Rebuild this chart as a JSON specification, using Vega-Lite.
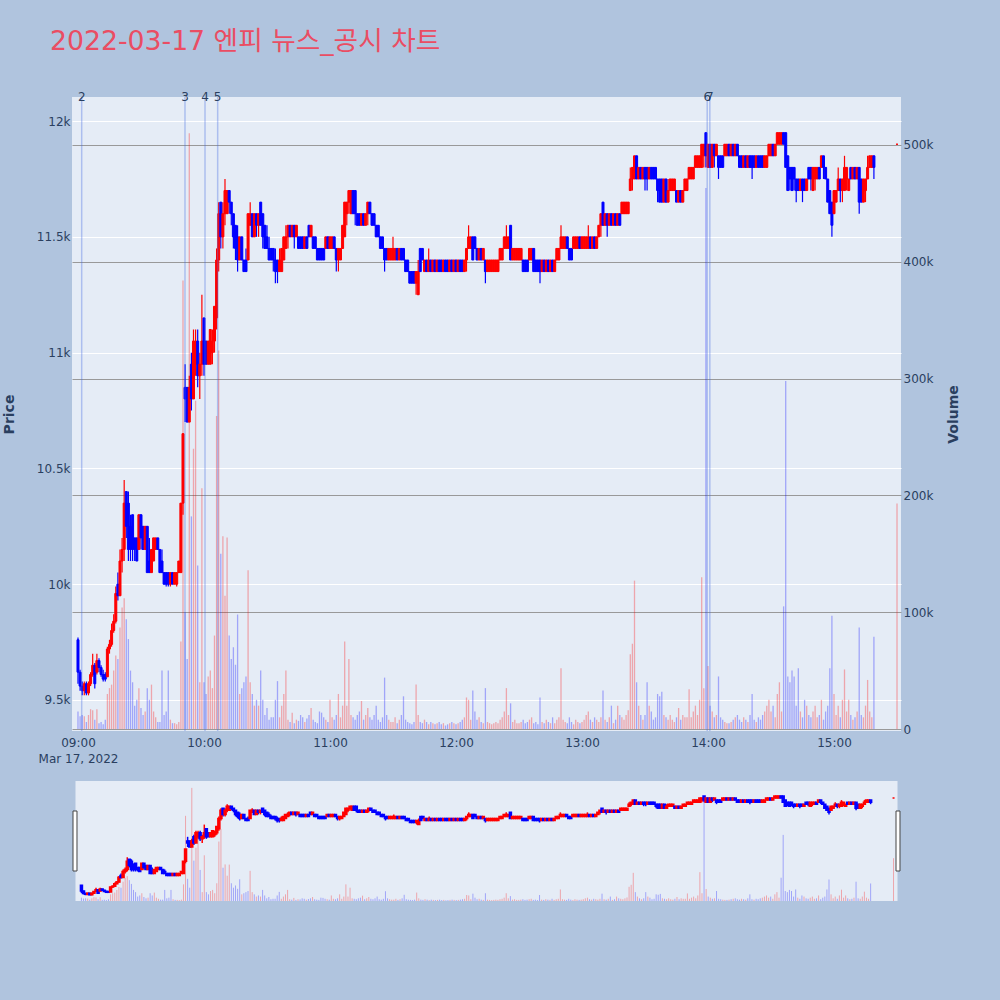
{
"$schema": "https://vega.github.io/schema/vega-lite/v6.json",
"background": "#B0C4DE",
"padding": {"left": 2, "top": 29, "right": 40, "bottom": 100},
"title": {"text": "2022-03-17 엔피 뉴스_공시 차트", "anchor": "start", "font": "DejaVu Sans, Noto Sans CJK KR", "fontSize": 26.7, "fontWeight": "normal", "color": "#EA4D63", "dx": 48, "offset": 35},
"datasets": {
"ann": [{"t":"2022-03-17T09:01:46","n":"2"},{"t":"2022-03-17T09:50:57","n":"3"},{"t":"2022-03-17T10:00:29","n":"4"},{"t":"2022-03-17T10:06:31","n":"5"},{"t":"2022-03-17T13:59:37","n":"6"},{"t":"2022-03-17T14:00:52","n":"7"}],
"handles": [{"t":"2022-03-17T08:55:57","t2":"2022-03-17T08:57:52"},{"t":"2022-03-17T15:31:11","t2":"2022-03-17T15:33:06"}],
"k": [
{"t":"2022-03-17T09:00","o":9760,"h":9770,"l":9570,"c":9620,"v":15000},
{"t":"2022-03-17T09:01","o":9620,"h":9630,"l":9540,"c":9560,"v":11000},
{"t":"2022-03-17T09:02","o":9560,"h":9580,"l":9520,"c":9540,"v":12000},
{"t":"2022-03-17T09:03","o":9540,"h":9580,"l":9520,"c":9570,"v":11000},
{"t":"2022-03-17T09:04","o":9570,"h":9580,"l":9520,"c":9530,"v":6000},
{"t":"2022-03-17T09:05","o":9530,"h":9580,"l":9520,"c":9570,"v":12000},
{"t":"2022-03-17T09:06","o":9570,"h":9620,"l":9560,"c":9610,"v":17000},
{"t":"2022-03-17T09:07","o":9610,"h":9700,"l":9600,"c":9650,"v":16000},
{"t":"2022-03-17T09:08","o":9650,"h":9660,"l":9550,"c":9570,"v":8000},
{"t":"2022-03-17T09:09","o":9620,"h":9700,"l":9610,"c":9670,"v":17000},
{"t":"2022-03-17T09:10","o":9670,"h":9680,"l":9620,"c":9640,"v":5000},
{"t":"2022-03-17T09:11","o":9640,"h":9650,"l":9600,"c":9610,"v":6000},
{"t":"2022-03-17T09:12","o":9610,"h":9630,"l":9580,"c":9590,"v":4000},
{"t":"2022-03-17T09:13","o":9610,"h":9620,"l":9580,"c":9590,"v":8000},
{"t":"2022-03-17T09:14","o":9600,"h":9730,"l":9600,"c":9720,"v":30000},
{"t":"2022-03-17T09:15","o":9720,"h":9760,"l":9700,"c":9740,"v":35000},
{"t":"2022-03-17T09:16","o":9740,"h":9830,"l":9730,"c":9800,"v":38000},
{"t":"2022-03-17T09:17","o":9800,"h":9870,"l":9790,"c":9840,"v":50000},
{"t":"2022-03-17T09:18","o":9840,"h":9990,"l":9830,"c":9960,"v":63000},
{"t":"2022-03-17T09:19","o":10000,"h":10050,"l":9930,"c":9950,"v":60000},
{"t":"2022-03-17T09:20","o":9950,"h":10150,"l":9950,"c":10100,"v":87000},
{"t":"2022-03-17T09:21","o":10100,"h":10200,"l":10050,"c":10150,"v":104000},
{"t":"2022-03-17T09:22","o":10150,"h":10450,"l":10100,"c":10350,"v":112000},
{"t":"2022-03-17T09:23","o":10400,"h":10400,"l":10200,"c":10250,"v":94000},
{"t":"2022-03-17T09:24","o":10350,"h":10400,"l":10100,"c":10150,"v":77000},
{"t":"2022-03-17T09:25","o":10250,"h":10300,"l":10100,"c":10150,"v":50000},
{"t":"2022-03-17T09:26","o":10300,"h":10300,"l":10100,"c":10150,"v":40000},
{"t":"2022-03-17T09:27","o":10200,"h":10200,"l":10100,"c":10150,"v":20000},
{"t":"2022-03-17T09:28","o":10200,"h":10200,"l":10100,"c":10100,"v":25000},
{"t":"2022-03-17T09:29","o":10150,"h":10300,"l":10150,"c":10300,"v":35000},
{"t":"2022-03-17T09:30","o":10300,"h":10300,"l":10150,"c":10200,"v":18000},
{"t":"2022-03-17T09:31","o":10250,"h":10250,"l":10150,"c":10150,"v":12000},
{"t":"2022-03-17T09:32","o":10150,"h":10250,"l":10150,"c":10250,"v":15000},
{"t":"2022-03-17T09:33","o":10250,"h":10250,"l":10050,"c":10050,"v":35000},
{"t":"2022-03-17T09:34","o":10100,"h":10200,"l":10050,"c":10050,"v":25000},
{"t":"2022-03-17T09:35","o":10050,"h":10150,"l":10050,"c":10150,"v":38000},
{"t":"2022-03-17T09:36","o":10100,"h":10200,"l":10100,"c":10200,"v":15000},
{"t":"2022-03-17T09:37","o":10150,"h":10200,"l":10150,"c":10200,"v":10000},
{"t":"2022-03-17T09:38","o":10200,"h":10200,"l":10150,"c":10150,"v":6000},
{"t":"2022-03-17T09:39","o":10150,"h":10150,"l":10050,"c":10050,"v":6000},
{"t":"2022-03-17T09:40","o":10100,"h":10150,"l":10050,"c":10050,"v":50000},
{"t":"2022-03-17T09:41","o":10050,"h":10050,"l":10000,"c":10000,"v":12000},
{"t":"2022-03-17T09:42","o":10050,"h":10050,"l":9990,"c":10000,"v":15000},
{"t":"2022-03-17T09:43","o":10050,"h":10050,"l":9990,"c":10000,"v":50000},
{"t":"2022-03-17T09:44","o":10000,"h":10050,"l":9990,"c":10050,"v":8000},
{"t":"2022-03-17T09:45","o":10050,"h":10050,"l":10000,"c":10000,"v":5000},
{"t":"2022-03-17T09:46","o":10000,"h":10050,"l":10000,"c":10050,"v":5000},
{"t":"2022-03-17T09:47","o":10000,"h":10050,"l":9990,"c":10050,"v":4000},
{"t":"2022-03-17T09:48","o":10050,"h":10100,"l":10050,"c":10100,"v":6000},
{"t":"2022-03-17T09:49","o":10050,"h":10350,"l":10050,"c":10350,"v":75000},
{"t":"2022-03-17T09:50","o":10350,"h":10650,"l":10300,"c":10650,"v":384000},
{"t":"2022-03-17T09:51","o":10850,"h":10950,"l":10700,"c":10800,"v":100000},
{"t":"2022-03-17T09:52","o":10850,"h":10850,"l":10700,"c":10700,"v":60000},
{"t":"2022-03-17T09:53","o":10700,"h":10900,"l":10700,"c":10850,"v":510000},
{"t":"2022-03-17T09:54","o":10950,"h":11000,"l":10750,"c":10800,"v":182000},
{"t":"2022-03-17T09:55","o":10800,"h":11100,"l":10800,"c":11050,"v":240000},
{"t":"2022-03-17T09:56","o":10950,"h":11100,"l":10900,"c":11050,"v":281000},
{"t":"2022-03-17T09:57","o":11050,"h":11100,"l":10850,"c":10900,"v":140000},
{"t":"2022-03-17T09:58","o":10900,"h":11000,"l":10800,"c":10950,"v":40000},
{"t":"2022-03-17T09:59","o":10950,"h":11250,"l":10900,"c":11050,"v":206000},
{"t":"2022-03-17T10:00","o":11150,"h":11150,"l":10900,"c":10950,"v":40000},
{"t":"2022-03-17T10:01","o":11050,"h":11050,"l":10950,"c":10950,"v":30000},
{"t":"2022-03-17T10:02","o":10950,"h":11050,"l":10950,"c":11050,"v":45000},
{"t":"2022-03-17T10:03","o":10950,"h":11100,"l":10950,"c":11100,"v":50000},
{"t":"2022-03-17T10:04","o":11000,"h":11100,"l":10950,"c":11050,"v":35000},
{"t":"2022-03-17T10:05","o":11050,"h":11200,"l":11000,"c":11200,"v":80000},
{"t":"2022-03-17T10:06","o":11150,"h":11450,"l":11100,"c":11400,"v":268000},
{"t":"2022-03-17T10:07","o":11400,"h":11650,"l":11350,"c":11600,"v":324000},
{"t":"2022-03-17T10:08","o":11650,"h":11650,"l":11450,"c":11500,"v":150000},
{"t":"2022-03-17T10:09","o":11500,"h":11650,"l":11450,"c":11600,"v":165000},
{"t":"2022-03-17T10:10","o":11600,"h":11750,"l":11550,"c":11700,"v":114000},
{"t":"2022-03-17T10:11","o":11600,"h":11700,"l":11600,"c":11700,"v":164000},
{"t":"2022-03-17T10:12","o":11700,"h":11700,"l":11600,"c":11650,"v":80000},
{"t":"2022-03-17T10:13","o":11650,"h":11650,"l":11550,"c":11600,"v":60000},
{"t":"2022-03-17T10:14","o":11600,"h":11600,"l":11450,"c":11500,"v":70000},
{"t":"2022-03-17T10:15","o":11550,"h":11550,"l":11400,"c":11450,"v":55000},
{"t":"2022-03-17T10:16","o":11500,"h":11550,"l":11350,"c":11400,"v":98000},
{"t":"2022-03-17T10:17","o":11400,"h":11500,"l":11400,"c":11500,"v":30000},
{"t":"2022-03-17T10:18","o":11500,"h":11500,"l":11400,"c":11400,"v":35000},
{"t":"2022-03-17T10:19","o":11400,"h":11400,"l":11350,"c":11350,"v":40000},
{"t":"2022-03-17T10:20","o":11400,"h":11450,"l":11350,"c":11350,"v":45000},
{"t":"2022-03-17T10:21","o":11400,"h":11600,"l":11400,"c":11600,"v":136000},
{"t":"2022-03-17T10:22","o":11550,"h":11650,"l":11550,"c":11600,"v":40000},
{"t":"2022-03-17T10:23","o":11600,"h":11600,"l":11500,"c":11500,"v":30000},
{"t":"2022-03-17T10:24","o":11500,"h":11600,"l":11500,"c":11600,"v":20000},
{"t":"2022-03-17T10:25","o":11600,"h":11600,"l":11500,"c":11550,"v":25000},
{"t":"2022-03-17T10:26","o":11550,"h":11600,"l":11500,"c":11600,"v":20000},
{"t":"2022-03-17T10:27","o":11650,"h":11650,"l":11550,"c":11550,"v":50000},
{"t":"2022-03-17T10:28","o":11600,"h":11600,"l":11450,"c":11500,"v":25000},
{"t":"2022-03-17T10:29","o":11550,"h":11550,"l":11450,"c":11450,"v":12000},
{"t":"2022-03-17T10:30","o":11500,"h":11550,"l":11450,"c":11450,"v":18000},
{"t":"2022-03-17T10:31","o":11450,"h":11500,"l":11400,"c":11400,"v":8000},
{"t":"2022-03-17T10:32","o":11450,"h":11450,"l":11400,"c":11400,"v":10000},
{"t":"2022-03-17T10:33","o":11450,"h":11450,"l":11350,"c":11400,"v":10000},
{"t":"2022-03-17T10:34","o":11400,"h":11450,"l":11300,"c":11350,"v":25000},
{"t":"2022-03-17T10:35","o":11400,"h":11400,"l":11300,"c":11350,"v":41000},
{"t":"2022-03-17T10:36","o":11350,"h":11450,"l":11350,"c":11400,"v":10000},
{"t":"2022-03-17T10:37","o":11350,"h":11450,"l":11350,"c":11450,"v":20000},
{"t":"2022-03-17T10:38","o":11400,"h":11500,"l":11400,"c":11500,"v":30000},
{"t":"2022-03-17T10:39","o":11450,"h":11550,"l":11450,"c":11500,"v":50000},
{"t":"2022-03-17T10:40","o":11500,"h":11550,"l":11450,"c":11550,"v":8000},
{"t":"2022-03-17T10:41","o":11550,"h":11550,"l":11500,"c":11500,"v":6000},
{"t":"2022-03-17T10:42","o":11500,"h":11550,"l":11500,"c":11550,"v":14000},
{"t":"2022-03-17T10:43","o":11550,"h":11550,"l":11450,"c":11500,"v":5000},
{"t":"2022-03-17T10:44","o":11500,"h":11550,"l":11500,"c":11550,"v":8000},
{"t":"2022-03-17T10:45","o":11500,"h":11500,"l":11450,"c":11450,"v":7000},
{"t":"2022-03-17T10:46","o":11500,"h":11500,"l":11450,"c":11450,"v":12000},
{"t":"2022-03-17T10:47","o":11500,"h":11500,"l":11450,"c":11450,"v":10000},
{"t":"2022-03-17T10:48","o":11450,"h":11500,"l":11450,"c":11500,"v":6000},
{"t":"2022-03-17T10:49","o":11500,"h":11500,"l":11450,"c":11450,"v":9000},
{"t":"2022-03-17T10:50","o":11550,"h":11550,"l":11500,"c":11500,"v":12000},
{"t":"2022-03-17T10:51","o":11500,"h":11550,"l":11500,"c":11550,"v":18000},
{"t":"2022-03-17T10:52","o":11500,"h":11500,"l":11450,"c":11450,"v":8000},
{"t":"2022-03-17T10:53","o":11500,"h":11500,"l":11450,"c":11450,"v":6000},
{"t":"2022-03-17T10:54","o":11450,"h":11450,"l":11400,"c":11400,"v":5000},
{"t":"2022-03-17T10:55","o":11450,"h":11450,"l":11400,"c":11400,"v":15000},
{"t":"2022-03-17T10:56","o":11450,"h":11450,"l":11400,"c":11400,"v":14000},
{"t":"2022-03-17T10:57","o":11450,"h":11450,"l":11400,"c":11400,"v":10000},
{"t":"2022-03-17T10:58","o":11450,"h":11500,"l":11450,"c":11500,"v":8000},
{"t":"2022-03-17T10:59","o":11500,"h":11500,"l":11450,"c":11450,"v":6000},
{"t":"2022-03-17T11:00","o":11450,"h":11500,"l":11450,"c":11500,"v":25000},
{"t":"2022-03-17T11:01","o":11450,"h":11500,"l":11450,"c":11500,"v":10000},
{"t":"2022-03-17T11:02","o":11500,"h":11500,"l":11450,"c":11450,"v":8000},
{"t":"2022-03-17T11:03","o":11450,"h":11450,"l":11350,"c":11400,"v":12000},
{"t":"2022-03-17T11:04","o":11400,"h":11450,"l":11350,"c":11450,"v":30000},
{"t":"2022-03-17T11:05","o":11400,"h":11450,"l":11400,"c":11450,"v":10000},
{"t":"2022-03-17T11:06","o":11450,"h":11550,"l":11450,"c":11550,"v":20000},
{"t":"2022-03-17T11:07","o":11500,"h":11650,"l":11500,"c":11650,"v":75000},
{"t":"2022-03-17T11:08","o":11600,"h":11650,"l":11550,"c":11650,"v":20000},
{"t":"2022-03-17T11:09","o":11650,"h":11700,"l":11600,"c":11700,"v":60000},
{"t":"2022-03-17T11:10","o":11600,"h":11700,"l":11600,"c":11700,"v":12000},
{"t":"2022-03-17T11:11","o":11700,"h":11700,"l":11600,"c":11600,"v":10000},
{"t":"2022-03-17T11:12","o":11700,"h":11700,"l":11550,"c":11600,"v":8000},
{"t":"2022-03-17T11:13","o":11600,"h":11600,"l":11550,"c":11550,"v":12000},
{"t":"2022-03-17T11:14","o":11600,"h":11600,"l":11550,"c":11550,"v":15000},
{"t":"2022-03-17T11:15","o":11550,"h":11600,"l":11550,"c":11600,"v":24000},
{"t":"2022-03-17T11:16","o":11600,"h":11600,"l":11550,"c":11550,"v":8000},
{"t":"2022-03-17T11:17","o":11550,"h":11600,"l":11550,"c":11600,"v":12000},
{"t":"2022-03-17T11:18","o":11600,"h":11650,"l":11550,"c":11650,"v":18000},
{"t":"2022-03-17T11:19","o":11650,"h":11650,"l":11600,"c":11600,"v":10000},
{"t":"2022-03-17T11:20","o":11600,"h":11600,"l":11550,"c":11550,"v":8000},
{"t":"2022-03-17T11:21","o":11600,"h":11600,"l":11550,"c":11550,"v":12000},
{"t":"2022-03-17T11:22","o":11550,"h":11550,"l":11500,"c":11500,"v":20000},
{"t":"2022-03-17T11:23","o":11550,"h":11550,"l":11500,"c":11500,"v":8000},
{"t":"2022-03-17T11:24","o":11500,"h":11500,"l":11450,"c":11450,"v":6000},
{"t":"2022-03-17T11:25","o":11500,"h":11500,"l":11450,"c":11450,"v":10000},
{"t":"2022-03-17T11:26","o":11450,"h":11450,"l":11350,"c":11400,"v":44000},
{"t":"2022-03-17T11:27","o":11450,"h":11450,"l":11400,"c":11400,"v":12000},
{"t":"2022-03-17T11:28","o":11400,"h":11450,"l":11400,"c":11450,"v":8000},
{"t":"2022-03-17T11:29","o":11400,"h":11450,"l":11400,"c":11450,"v":6000},
{"t":"2022-03-17T11:30","o":11400,"h":11500,"l":11400,"c":11450,"v":6000},
{"t":"2022-03-17T11:31","o":11400,"h":11450,"l":11400,"c":11450,"v":10000},
{"t":"2022-03-17T11:32","o":11450,"h":11450,"l":11400,"c":11400,"v":5000},
{"t":"2022-03-17T11:33","o":11400,"h":11450,"l":11400,"c":11450,"v":8000},
{"t":"2022-03-17T11:34","o":11450,"h":11450,"l":11400,"c":11400,"v":12000},
{"t":"2022-03-17T11:35","o":11450,"h":11450,"l":11400,"c":11400,"v":28000},
{"t":"2022-03-17T11:36","o":11400,"h":11400,"l":11350,"c":11350,"v":8000},
{"t":"2022-03-17T11:37","o":11400,"h":11400,"l":11350,"c":11350,"v":6000},
{"t":"2022-03-17T11:38","o":11350,"h":11350,"l":11300,"c":11300,"v":5000},
{"t":"2022-03-17T11:39","o":11350,"h":11350,"l":11300,"c":11300,"v":4000},
{"t":"2022-03-17T11:40","o":11350,"h":11350,"l":11300,"c":11300,"v":6000},
{"t":"2022-03-17T11:41","o":11300,"h":11350,"l":11250,"c":11350,"v":38000},
{"t":"2022-03-17T11:42","o":11250,"h":11400,"l":11250,"c":11350,"v":12000},
{"t":"2022-03-17T11:43","o":11450,"h":11450,"l":11350,"c":11350,"v":6000},
{"t":"2022-03-17T11:44","o":11450,"h":11450,"l":11400,"c":11400,"v":5000},
{"t":"2022-03-17T11:45","o":11350,"h":11400,"l":11350,"c":11400,"v":8000},
{"t":"2022-03-17T11:46","o":11400,"h":11400,"l":11350,"c":11350,"v":6000},
{"t":"2022-03-17T11:47","o":11350,"h":11450,"l":11350,"c":11400,"v":4000},
{"t":"2022-03-17T11:48","o":11400,"h":11400,"l":11350,"c":11350,"v":6000},
{"t":"2022-03-17T11:49","o":11350,"h":11400,"l":11350,"c":11400,"v":5000},
{"t":"2022-03-17T11:50","o":11400,"h":11400,"l":11350,"c":11350,"v":4000},
{"t":"2022-03-17T11:51","o":11350,"h":11400,"l":11350,"c":11400,"v":5000},
{"t":"2022-03-17T11:52","o":11400,"h":11400,"l":11350,"c":11350,"v":6000},
{"t":"2022-03-17T11:53","o":11400,"h":11400,"l":11350,"c":11350,"v":4000},
{"t":"2022-03-17T11:54","o":11350,"h":11400,"l":11350,"c":11400,"v":5000},
{"t":"2022-03-17T11:55","o":11400,"h":11400,"l":11350,"c":11350,"v":3000},
{"t":"2022-03-17T11:56","o":11400,"h":11400,"l":11350,"c":11350,"v":4000},
{"t":"2022-03-17T11:57","o":11350,"h":11400,"l":11350,"c":11400,"v":5000},
{"t":"2022-03-17T11:58","o":11400,"h":11400,"l":11350,"c":11350,"v":6000},
{"t":"2022-03-17T11:59","o":11350,"h":11400,"l":11350,"c":11400,"v":5000},
{"t":"2022-03-17T12:00","o":11400,"h":11400,"l":11350,"c":11350,"v":4000},
{"t":"2022-03-17T12:01","o":11350,"h":11400,"l":11350,"c":11400,"v":5000},
{"t":"2022-03-17T12:02","o":11400,"h":11400,"l":11350,"c":11350,"v":6000},
{"t":"2022-03-17T12:03","o":11400,"h":11400,"l":11350,"c":11350,"v":8000},
{"t":"2022-03-17T12:04","o":11350,"h":11400,"l":11350,"c":11400,"v":10000},
{"t":"2022-03-17T12:05","o":11400,"h":11450,"l":11350,"c":11450,"v":27000},
{"t":"2022-03-17T12:06","o":11450,"h":11550,"l":11450,"c":11500,"v":25000},
{"t":"2022-03-17T12:07","o":11450,"h":11500,"l":11450,"c":11500,"v":8000},
{"t":"2022-03-17T12:08","o":11500,"h":11500,"l":11400,"c":11400,"v":33000},
{"t":"2022-03-17T12:09","o":11500,"h":11500,"l":11450,"c":11450,"v":15000},
{"t":"2022-03-17T12:10","o":11450,"h":11450,"l":11400,"c":11400,"v":8000},
{"t":"2022-03-17T12:11","o":11400,"h":11450,"l":11400,"c":11450,"v":10000},
{"t":"2022-03-17T12:12","o":11450,"h":11450,"l":11400,"c":11400,"v":6000},
{"t":"2022-03-17T12:13","o":11400,"h":11450,"l":11400,"c":11450,"v":5000},
{"t":"2022-03-17T12:14","o":11400,"h":11400,"l":11300,"c":11350,"v":35000},
{"t":"2022-03-17T12:15","o":11350,"h":11400,"l":11350,"c":11400,"v":6000},
{"t":"2022-03-17T12:16","o":11350,"h":11400,"l":11350,"c":11400,"v":5000},
{"t":"2022-03-17T12:17","o":11350,"h":11400,"l":11350,"c":11400,"v":4000},
{"t":"2022-03-17T12:18","o":11350,"h":11400,"l":11350,"c":11400,"v":5000},
{"t":"2022-03-17T12:19","o":11350,"h":11400,"l":11350,"c":11400,"v":6000},
{"t":"2022-03-17T12:20","o":11350,"h":11400,"l":11350,"c":11400,"v":5000},
{"t":"2022-03-17T12:21","o":11400,"h":11450,"l":11400,"c":11450,"v":8000},
{"t":"2022-03-17T12:22","o":11400,"h":11450,"l":11400,"c":11450,"v":10000},
{"t":"2022-03-17T12:23","o":11450,"h":11500,"l":11450,"c":11500,"v":15000},
{"t":"2022-03-17T12:24","o":11450,"h":11550,"l":11450,"c":11500,"v":35000},
{"t":"2022-03-17T12:25","o":11450,"h":11500,"l":11450,"c":11500,"v":12000},
{"t":"2022-03-17T12:26","o":11550,"h":11550,"l":11400,"c":11400,"v":22000},
{"t":"2022-03-17T12:27","o":11400,"h":11450,"l":11400,"c":11450,"v":6000},
{"t":"2022-03-17T12:28","o":11400,"h":11450,"l":11400,"c":11450,"v":8000},
{"t":"2022-03-17T12:29","o":11400,"h":11450,"l":11400,"c":11450,"v":5000},
{"t":"2022-03-17T12:30","o":11400,"h":11450,"l":11400,"c":11450,"v":5000},
{"t":"2022-03-17T12:31","o":11400,"h":11450,"l":11400,"c":11450,"v":6000},
{"t":"2022-03-17T12:32","o":11400,"h":11400,"l":11350,"c":11350,"v":8000},
{"t":"2022-03-17T12:33","o":11400,"h":11400,"l":11350,"c":11350,"v":5000},
{"t":"2022-03-17T12:34","o":11400,"h":11400,"l":11350,"c":11350,"v":6000},
{"t":"2022-03-17T12:35","o":11400,"h":11450,"l":11400,"c":11450,"v":8000},
{"t":"2022-03-17T12:36","o":11400,"h":11450,"l":11400,"c":11450,"v":10000},
{"t":"2022-03-17T12:37","o":11450,"h":11450,"l":11350,"c":11350,"v":5000},
{"t":"2022-03-17T12:38","o":11400,"h":11400,"l":11350,"c":11350,"v":6000},
{"t":"2022-03-17T12:39","o":11400,"h":11400,"l":11350,"c":11350,"v":4000},
{"t":"2022-03-17T12:40","o":11400,"h":11400,"l":11300,"c":11350,"v":27000},
{"t":"2022-03-17T12:41","o":11350,"h":11400,"l":11350,"c":11400,"v":6000},
{"t":"2022-03-17T12:42","o":11400,"h":11400,"l":11350,"c":11350,"v":5000},
{"t":"2022-03-17T12:43","o":11350,"h":11400,"l":11350,"c":11400,"v":8000},
{"t":"2022-03-17T12:44","o":11400,"h":11400,"l":11350,"c":11350,"v":6000},
{"t":"2022-03-17T12:45","o":11350,"h":11400,"l":11350,"c":11400,"v":5000},
{"t":"2022-03-17T12:46","o":11400,"h":11400,"l":11350,"c":11350,"v":10000},
{"t":"2022-03-17T12:47","o":11350,"h":11400,"l":11350,"c":11400,"v":5000},
{"t":"2022-03-17T12:48","o":11400,"h":11450,"l":11400,"c":11450,"v":8000},
{"t":"2022-03-17T12:49","o":11400,"h":11450,"l":11400,"c":11450,"v":10000},
{"t":"2022-03-17T12:50","o":11450,"h":11550,"l":11450,"c":11500,"v":52000},
{"t":"2022-03-17T12:51","o":11450,"h":11500,"l":11450,"c":11500,"v":8000},
{"t":"2022-03-17T12:52","o":11450,"h":11500,"l":11450,"c":11500,"v":6000},
{"t":"2022-03-17T12:53","o":11500,"h":11500,"l":11450,"c":11450,"v":5000},
{"t":"2022-03-17T12:54","o":11450,"h":11450,"l":11400,"c":11400,"v":10000},
{"t":"2022-03-17T12:55","o":11450,"h":11450,"l":11400,"c":11400,"v":6000},
{"t":"2022-03-17T12:56","o":11450,"h":11500,"l":11450,"c":11500,"v":4000},
{"t":"2022-03-17T12:57","o":11450,"h":11500,"l":11450,"c":11500,"v":8000},
{"t":"2022-03-17T12:58","o":11450,"h":11500,"l":11450,"c":11500,"v":6000},
{"t":"2022-03-17T12:59","o":11500,"h":11500,"l":11450,"c":11450,"v":5000},
{"t":"2022-03-17T13:00","o":11450,"h":11500,"l":11450,"c":11500,"v":6000},
{"t":"2022-03-17T13:01","o":11450,"h":11500,"l":11450,"c":11500,"v":8000},
{"t":"2022-03-17T13:02","o":11450,"h":11500,"l":11450,"c":11500,"v":12000},
{"t":"2022-03-17T13:03","o":11450,"h":11550,"l":11450,"c":11500,"v":15000},
{"t":"2022-03-17T13:04","o":11500,"h":11500,"l":11450,"c":11450,"v":8000},
{"t":"2022-03-17T13:05","o":11450,"h":11500,"l":11450,"c":11500,"v":6000},
{"t":"2022-03-17T13:06","o":11500,"h":11500,"l":11450,"c":11450,"v":10000},
{"t":"2022-03-17T13:07","o":11450,"h":11500,"l":11450,"c":11500,"v":8000},
{"t":"2022-03-17T13:08","o":11500,"h":11550,"l":11500,"c":11550,"v":6000},
{"t":"2022-03-17T13:09","o":11550,"h":11600,"l":11500,"c":11600,"v":10000},
{"t":"2022-03-17T13:10","o":11650,"h":11650,"l":11550,"c":11550,"v":33000},
{"t":"2022-03-17T13:11","o":11550,"h":11600,"l":11550,"c":11600,"v":8000},
{"t":"2022-03-17T13:12","o":11600,"h":11600,"l":11500,"c":11550,"v":6000},
{"t":"2022-03-17T13:13","o":11550,"h":11600,"l":11550,"c":11600,"v":10000},
{"t":"2022-03-17T13:14","o":11600,"h":11600,"l":11550,"c":11550,"v":20000},
{"t":"2022-03-17T13:15","o":11550,"h":11600,"l":11550,"c":11600,"v":5000},
{"t":"2022-03-17T13:16","o":11600,"h":11600,"l":11550,"c":11550,"v":8000},
{"t":"2022-03-17T13:17","o":11550,"h":11600,"l":11550,"c":11600,"v":20000},
{"t":"2022-03-17T13:18","o":11600,"h":11600,"l":11550,"c":11550,"v":12000},
{"t":"2022-03-17T13:19","o":11600,"h":11650,"l":11600,"c":11650,"v":10000},
{"t":"2022-03-17T13:20","o":11600,"h":11650,"l":11600,"c":11650,"v":8000},
{"t":"2022-03-17T13:21","o":11600,"h":11650,"l":11600,"c":11650,"v":12000},
{"t":"2022-03-17T13:22","o":11600,"h":11650,"l":11600,"c":11650,"v":16000},
{"t":"2022-03-17T13:23","o":11700,"h":11800,"l":11700,"c":11750,"v":64000},
{"t":"2022-03-17T13:24","o":11750,"h":11800,"l":11700,"c":11800,"v":73000},
{"t":"2022-03-17T13:25","o":11750,"h":11850,"l":11750,"c":11850,"v":127000},
{"t":"2022-03-17T13:26","o":11850,"h":11850,"l":11750,"c":11750,"v":40000},
{"t":"2022-03-17T13:27","o":11750,"h":11800,"l":11750,"c":11800,"v":20000},
{"t":"2022-03-17T13:28","o":11800,"h":11800,"l":11750,"c":11750,"v":12000},
{"t":"2022-03-17T13:29","o":11750,"h":11800,"l":11750,"c":11800,"v":8000},
{"t":"2022-03-17T13:30","o":11800,"h":11800,"l":11700,"c":11750,"v":12000},
{"t":"2022-03-17T13:31","o":11800,"h":11800,"l":11700,"c":11750,"v":40000},
{"t":"2022-03-17T13:32","o":11750,"h":11800,"l":11750,"c":11800,"v":20000},
{"t":"2022-03-17T13:33","o":11800,"h":11800,"l":11750,"c":11750,"v":15000},
{"t":"2022-03-17T13:34","o":11800,"h":11800,"l":11750,"c":11750,"v":8000},
{"t":"2022-03-17T13:35","o":11800,"h":11800,"l":11750,"c":11750,"v":10000},
{"t":"2022-03-17T13:36","o":11750,"h":11750,"l":11650,"c":11700,"v":30000},
{"t":"2022-03-17T13:37","o":11750,"h":11750,"l":11650,"c":11650,"v":28000},
{"t":"2022-03-17T13:38","o":11750,"h":11750,"l":11650,"c":11650,"v":32000},
{"t":"2022-03-17T13:39","o":11650,"h":11750,"l":11650,"c":11750,"v":12000},
{"t":"2022-03-17T13:40","o":11750,"h":11750,"l":11650,"c":11650,"v":10000},
{"t":"2022-03-17T13:41","o":11650,"h":11750,"l":11650,"c":11700,"v":8000},
{"t":"2022-03-17T13:42","o":11700,"h":11750,"l":11700,"c":11750,"v":12000},
{"t":"2022-03-17T13:43","o":11700,"h":11750,"l":11700,"c":11750,"v":8000},
{"t":"2022-03-17T13:44","o":11700,"h":11750,"l":11700,"c":11750,"v":6000},
{"t":"2022-03-17T13:45","o":11700,"h":11700,"l":11650,"c":11650,"v":10000},
{"t":"2022-03-17T13:46","o":11650,"h":11700,"l":11650,"c":11700,"v":18000},
{"t":"2022-03-17T13:47","o":11700,"h":11700,"l":11650,"c":11650,"v":8000},
{"t":"2022-03-17T13:48","o":11650,"h":11700,"l":11650,"c":11700,"v":12000},
{"t":"2022-03-17T13:49","o":11700,"h":11750,"l":11700,"c":11750,"v":10000},
{"t":"2022-03-17T13:50","o":11700,"h":11750,"l":11700,"c":11750,"v":10000},
{"t":"2022-03-17T13:51","o":11750,"h":11800,"l":11750,"c":11800,"v":34000},
{"t":"2022-03-17T13:52","o":11750,"h":11800,"l":11750,"c":11800,"v":10000},
{"t":"2022-03-17T13:53","o":11750,"h":11800,"l":11750,"c":11800,"v":15000},
{"t":"2022-03-17T13:54","o":11800,"h":11850,"l":11800,"c":11850,"v":20000},
{"t":"2022-03-17T13:55","o":11800,"h":11850,"l":11800,"c":11850,"v":12000},
{"t":"2022-03-17T13:56","o":11800,"h":11850,"l":11800,"c":11850,"v":25000},
{"t":"2022-03-17T13:57","o":11800,"h":11900,"l":11800,"c":11900,"v":130000},
{"t":"2022-03-17T13:58","o":11850,"h":11900,"l":11800,"c":11900,"v":35000},
{"t":"2022-03-17T13:59","o":11950,"h":11950,"l":11800,"c":11850,"v":463000},
{"t":"2022-03-17T14:00","o":11800,"h":11900,"l":11800,"c":11900,"v":54000},
{"t":"2022-03-17T14:01","o":11900,"h":11900,"l":11800,"c":11800,"v":20000},
{"t":"2022-03-17T14:02","o":11800,"h":11900,"l":11800,"c":11900,"v":15000},
{"t":"2022-03-17T14:03","o":11900,"h":11900,"l":11800,"c":11850,"v":10000},
{"t":"2022-03-17T14:04","o":11850,"h":11900,"l":11850,"c":11900,"v":12000},
{"t":"2022-03-17T14:05","o":11850,"h":11850,"l":11750,"c":11800,"v":45000},
{"t":"2022-03-17T14:06","o":11850,"h":11850,"l":11800,"c":11800,"v":10000},
{"t":"2022-03-17T14:07","o":11850,"h":11850,"l":11800,"c":11800,"v":8000},
{"t":"2022-03-17T14:08","o":11850,"h":11900,"l":11850,"c":11900,"v":6000},
{"t":"2022-03-17T14:09","o":11850,"h":11900,"l":11850,"c":11900,"v":5000},
{"t":"2022-03-17T14:10","o":11900,"h":11900,"l":11850,"c":11850,"v":5000},
{"t":"2022-03-17T14:11","o":11850,"h":11900,"l":11850,"c":11900,"v":6000},
{"t":"2022-03-17T14:12","o":11900,"h":11900,"l":11850,"c":11850,"v":8000},
{"t":"2022-03-17T14:13","o":11850,"h":11900,"l":11850,"c":11900,"v":10000},
{"t":"2022-03-17T14:14","o":11900,"h":11900,"l":11850,"c":11850,"v":12000},
{"t":"2022-03-17T14:15","o":11850,"h":11850,"l":11800,"c":11800,"v":8000},
{"t":"2022-03-17T14:16","o":11850,"h":11850,"l":11800,"c":11800,"v":6000},
{"t":"2022-03-17T14:17","o":11800,"h":11850,"l":11800,"c":11850,"v":10000},
{"t":"2022-03-17T14:18","o":11850,"h":11850,"l":11800,"c":11800,"v":8000},
{"t":"2022-03-17T14:19","o":11800,"h":11850,"l":11800,"c":11850,"v":6000},
{"t":"2022-03-17T14:20","o":11850,"h":11850,"l":11800,"c":11800,"v":12000},
{"t":"2022-03-17T14:21","o":11850,"h":11850,"l":11750,"c":11800,"v":30000},
{"t":"2022-03-17T14:22","o":11850,"h":11850,"l":11800,"c":11800,"v":8000},
{"t":"2022-03-17T14:23","o":11800,"h":11850,"l":11800,"c":11850,"v":6000},
{"t":"2022-03-17T14:24","o":11850,"h":11850,"l":11800,"c":11800,"v":10000},
{"t":"2022-03-17T14:25","o":11850,"h":11850,"l":11800,"c":11800,"v":8000},
{"t":"2022-03-17T14:26","o":11850,"h":11850,"l":11800,"c":11800,"v":12000},
{"t":"2022-03-17T14:27","o":11800,"h":11850,"l":11800,"c":11850,"v":15000},
{"t":"2022-03-17T14:28","o":11800,"h":11850,"l":11800,"c":11850,"v":20000},
{"t":"2022-03-17T14:29","o":11850,"h":11900,"l":11850,"c":11900,"v":25000},
{"t":"2022-03-17T14:30","o":11850,"h":11900,"l":11850,"c":11900,"v":15000},
{"t":"2022-03-17T14:31","o":11900,"h":11900,"l":11850,"c":11850,"v":20000},
{"t":"2022-03-17T14:32","o":11850,"h":11900,"l":11850,"c":11900,"v":10000},
{"t":"2022-03-17T14:33","o":11900,"h":11950,"l":11900,"c":11950,"v":30000},
{"t":"2022-03-17T14:34","o":11900,"h":11950,"l":11900,"c":11950,"v":40000},
{"t":"2022-03-17T14:35","o":11900,"h":11950,"l":11900,"c":11950,"v":15000},
{"t":"2022-03-17T14:36","o":11950,"h":11950,"l":11900,"c":11900,"v":105000},
{"t":"2022-03-17T14:37","o":11950,"h":11950,"l":11800,"c":11800,"v":298000},
{"t":"2022-03-17T14:38","o":11850,"h":11850,"l":11700,"c":11700,"v":45000},
{"t":"2022-03-17T14:39","o":11800,"h":11800,"l":11700,"c":11750,"v":40000},
{"t":"2022-03-17T14:40","o":11800,"h":11800,"l":11700,"c":11700,"v":50000},
{"t":"2022-03-17T14:41","o":11800,"h":11800,"l":11700,"c":11750,"v":45000},
{"t":"2022-03-17T14:42","o":11750,"h":11750,"l":11650,"c":11700,"v":20000},
{"t":"2022-03-17T14:43","o":11750,"h":11750,"l":11700,"c":11700,"v":52000},
{"t":"2022-03-17T14:44","o":11700,"h":11750,"l":11700,"c":11750,"v":15000},
{"t":"2022-03-17T14:45","o":11750,"h":11750,"l":11650,"c":11700,"v":10000},
{"t":"2022-03-17T14:46","o":11750,"h":11750,"l":11700,"c":11700,"v":25000},
{"t":"2022-03-17T14:47","o":11700,"h":11750,"l":11700,"c":11750,"v":20000},
{"t":"2022-03-17T14:48","o":11800,"h":11800,"l":11750,"c":11750,"v":12000},
{"t":"2022-03-17T14:49","o":11800,"h":11800,"l":11700,"c":11750,"v":10000},
{"t":"2022-03-17T14:50","o":11700,"h":11800,"l":11700,"c":11800,"v":15000},
{"t":"2022-03-17T14:51","o":11750,"h":11800,"l":11700,"c":11800,"v":20000},
{"t":"2022-03-17T14:52","o":11750,"h":11800,"l":11750,"c":11800,"v":10000},
{"t":"2022-03-17T14:53","o":11800,"h":11800,"l":11750,"c":11750,"v":12000},
{"t":"2022-03-17T14:54","o":11800,"h":11850,"l":11800,"c":11850,"v":25000},
{"t":"2022-03-17T14:55","o":11850,"h":11850,"l":11750,"c":11800,"v":8000},
{"t":"2022-03-17T14:56","o":11800,"h":11800,"l":11750,"c":11750,"v":15000},
{"t":"2022-03-17T14:57","o":11750,"h":11750,"l":11650,"c":11650,"v":20000},
{"t":"2022-03-17T14:58","o":11700,"h":11700,"l":11600,"c":11600,"v":52000},
{"t":"2022-03-17T14:59","o":11650,"h":11650,"l":11500,"c":11550,"v":97000},
{"t":"2022-03-17T15:00","o":11600,"h":11700,"l":11600,"c":11700,"v":30000},
{"t":"2022-03-17T15:01","o":11650,"h":11700,"l":11650,"c":11700,"v":12000},
{"t":"2022-03-17T15:02","o":11700,"h":11800,"l":11700,"c":11750,"v":20000},
{"t":"2022-03-17T15:03","o":11750,"h":11750,"l":11650,"c":11700,"v":10000},
{"t":"2022-03-17T15:04","o":11700,"h":11750,"l":11650,"c":11750,"v":25000},
{"t":"2022-03-17T15:05","o":11700,"h":11850,"l":11700,"c":11800,"v":51000},
{"t":"2022-03-17T15:06","o":11750,"h":11800,"l":11700,"c":11800,"v":15000},
{"t":"2022-03-17T15:07","o":11700,"h":11750,"l":11700,"c":11750,"v":25000},
{"t":"2022-03-17T15:08","o":11800,"h":11800,"l":11750,"c":11750,"v":12000},
{"t":"2022-03-17T15:09","o":11750,"h":11800,"l":11750,"c":11800,"v":8000},
{"t":"2022-03-17T15:10","o":11800,"h":11800,"l":11750,"c":11750,"v":10000},
{"t":"2022-03-17T15:11","o":11750,"h":11800,"l":11750,"c":11800,"v":15000},
{"t":"2022-03-17T15:12","o":11800,"h":11800,"l":11600,"c":11650,"v":87000},
{"t":"2022-03-17T15:13","o":11750,"h":11750,"l":11650,"c":11650,"v":12000},
{"t":"2022-03-17T15:14","o":11650,"h":11750,"l":11650,"c":11750,"v":10000},
{"t":"2022-03-17T15:15","o":11700,"h":11750,"l":11650,"c":11750,"v":20000},
{"t":"2022-03-17T15:16","o":11750,"h":11850,"l":11750,"c":11800,"v":42000},
{"t":"2022-03-17T15:17","o":11800,"h":11850,"l":11800,"c":11850,"v":15000},
{"t":"2022-03-17T15:18","o":11800,"h":11850,"l":11800,"c":11850,"v":10000},
{"t":"2022-03-17T15:19","o":11850,"h":11850,"l":11750,"c":11800,"v":79000},
{"t":"2022-03-17T15:30","o":11900,"h":11900,"l":11900,"c":11900,"v":193000}
]},
"spacing": 50,
"bounds": "flush",
"center": true,
"vconcat": [
{
"width": 829, "height": 634,
"data": {"name": "k"},
"encoding": {"x": {"field": "t", "type": "temporal",
  "scale": {"domain": [{"year":2022,"month":3,"date":17,"hours":8,"minutes":57,"seconds":9},{"year":2022,"month":3,"date":17,"hours":15,"minutes":31,"seconds":54}], "nice": false, "padding": 0},
  "axis": {"format": "%H:%M", "values": [{"year":2022,"month":3,"date":17,"hours":9},{"year":2022,"month":3,"date":17,"hours":10},{"year":2022,"month":3,"date":17,"hours":11},{"year":2022,"month":3,"date":17,"hours":12},{"year":2022,"month":3,"date":17,"hours":13},{"year":2022,"month":3,"date":17,"hours":14},{"year":2022,"month":3,"date":17,"hours":15}],
   "grid": false, "labelPadding": 6, "labelFlush": false, "title": "Mar 17, 2022", "titleX": 6, "titleY": 22, "titleAlign": "center", "titleBaseline": "top", "titleFontWeight": "normal", "titleFontSize": 12}}},
"layer": [
 {"mark": {"type": "rule", "strokeWidth": 1.3, "opacity": 0.3},
  "encoding": {
   "y": {"field": "v", "type": "quantitative", "scale": {"domain": [-1700, 541000], "nice": false, "zero": false},
    "axis": {"orient": "right", "title": "Volume", "grid": true, "values": [0,100000,200000,300000,400000,500000], "labelExpr": "datum.value === 0 ? '0' : (datum.value/1000) + 'k'", "gridColor": "#999999", "labelPadding": 2, "titleAngle": -90, "titleX": 52, "titleY": 317, "titleBaseline": "middle", "titleAlign": "center", "titleFontWeight": "bold", "titleFontSize": 14}},
   "y2": {"datum": 0},
   "color": {"condition": {"test": "datum.c >= datum.o", "value": "#FF0000"}, "value": "#0000FF"}}},
 {"layer": [
  {"mark": {"type": "rule", "strokeWidth": 1.2},
   "encoding": {
    "y": {"field": "l", "type": "quantitative", "scale": {"domain": [9366, 12104], "nice": false, "zero": false},
     "axis": {"orient": "left", "title": "Price", "grid": true, "values": [9500,10000,10500,11000,11500,12000], "labelExpr": "(datum.value/1000) + 'k'", "gridColor": "#FFFFFF", "labelPadding": 2, "titleAngle": -90, "titleX": -63, "titleY": 317, "titleBaseline": "middle", "titleAlign": "center", "titleFontWeight": "bold", "titleFontSize": 14}},
    "y2": {"field": "h"},
    "color": {"condition": {"test": "datum.c >= datum.o", "value": "#FF0000"}, "value": "#0000FF"}}},
  {"mark": {"type": "bar", "size": 2, "strokeWidth": 1},
   "encoding": {
    "y": {"field": "o", "type": "quantitative", "title": "Price"},
    "y2": {"field": "c"},
    "color": {"condition": {"test": "datum.c >= datum.o", "value": "#FF0000"}, "value": "#0000FF"},
    "stroke": {"condition": {"test": "datum.c >= datum.o", "value": "#FF0000"}, "value": "#0000FF"}}},
  {"data": {"name": "ann"},
   "mark": {"type": "rule", "color": "#4169E1", "opacity": 0.35, "strokeWidth": 1.5},
   "encoding": {}},
  {"data": {"name": "ann"},
   "mark": {"type": "text", "fontSize": 12, "color": "#2a3f5f", "baseline": "middle", "font": "DejaVu Sans"},
   "encoding": {"text": {"field": "n"}, "y": {"datum": 12104}}}
 ]}
],
"resolve": {"scale": {"y": "independent"}}
},
{
"width": 822, "height": 120,
"data": {"name": "k"},
"encoding": {"x": {"field": "t", "type": "temporal",
  "scale": {"domain": [{"year":2022,"month":3,"date":17,"hours":8,"minutes":57,"seconds":9},{"year":2022,"month":3,"date":17,"hours":15,"minutes":31,"seconds":54}], "nice": false, "padding": 0},
  "axis": null}},
"layer": [
 {"mark": {"type": "rule", "strokeWidth": 1, "opacity": 0.3},
  "encoding": {
   "y": {"field": "v", "type": "quantitative", "scale": {"domain": [0, 541000], "nice": false}, "axis": null},
   "y2": {"datum": 0},
   "color": {"condition": {"test": "datum.c >= datum.o", "value": "#FF0000"}, "value": "#0000FF"}}},
 {"layer": [
  {"mark": {"type": "rule", "strokeWidth": 1.5},
   "encoding": {
    "y": {"field": "l", "type": "quantitative", "scale": {"domain": [9377, 12318], "nice": false, "zero": false}, "axis": null},
    "y2": {"field": "h"},
    "color": {"condition": {"test": "datum.c >= datum.o", "value": "#FF0000"}, "value": "#0000FF"}}},
  {"mark": {"type": "bar", "size": 2, "strokeWidth": 1.5},
   "encoding": {
    "y": {"field": "o", "type": "quantitative", "axis": null},
    "y2": {"field": "c"},
    "color": {"condition": {"test": "datum.c >= datum.o", "value": "#FF0000"}, "value": "#0000FF"},
    "stroke": {"condition": {"test": "datum.c >= datum.o", "value": "#FF0000"}, "value": "#0000FF"}}},
  {"data": {"name": "handles"},
   "mark": {"type": "rect", "fill": "#FFFFFF", "stroke": "#444444", "strokeWidth": 1},
   "encoding": {
    "x2": {"field": "t2"},
    "y": {"datum": 11583}, "y2": {"datum": 10112}}}
 ]}
],
"resolve": {"scale": {"y": "independent"}}
}
],
"config": {
 "font": "DejaVu Sans",
 "view": {"stroke": null, "fill": "#E5ECF6"},
 "axis": {"labelFont": "DejaVu Sans", "labelFontSize": 12, "labelColor": "#2a3f5f", "titleColor": "#2a3f5f", "titleFont": "DejaVu Sans", "ticks": false, "tickSize": 0, "domain": false, "gridWidth": 1}
}
}
